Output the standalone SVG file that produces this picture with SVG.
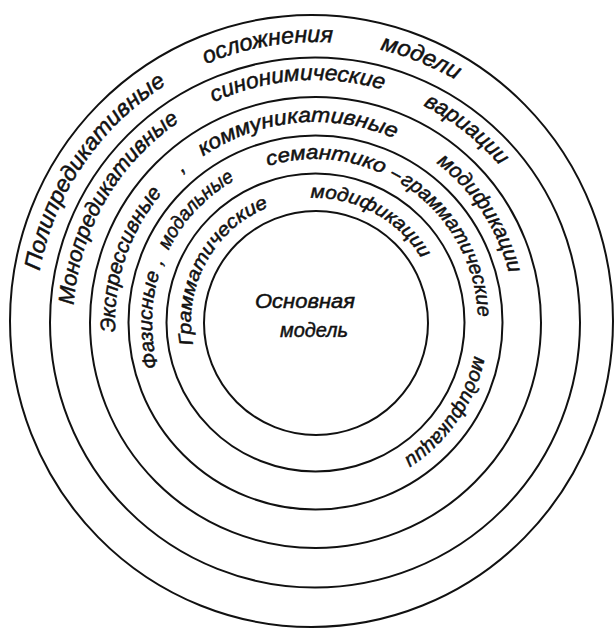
<svg xmlns="http://www.w3.org/2000/svg" xmlns:xlink="http://www.w3.org/1999/xlink" width="615" height="630" viewBox="0 0 615 630">
<style>
.ring{fill:none;stroke:#111;stroke-width:2}
.t{font-family:"Liberation Sans","DejaVu Sans",sans-serif;font-style:italic;fill:#111;stroke:#111;stroke-width:0.5}
.r1{font-size:23px}.r2{font-size:22px}.r3{font-size:21px}.r4{font-size:20px}.r5{font-size:19px}
.c{font-size:21px}
</style>
<defs>
<path id="p1" d="M315,602 A280,280 0 0 1 315,42 A280,280 0 0 1 315,602"/>
<path id="p2" d="M315,564 A242,242 0 0 1 315,80 A242,242 0 0 1 315,564"/>
<path id="p3" d="M315,522 A200,200 0 0 1 315,122 A200,200 0 0 1 315,522"/>
<path id="p4" d="M315,485 A163,163 0 0 1 315,159 A163,163 0 0 1 315,485"/>
<path id="p5" d="M315,446 A124,124 0 0 1 315,198 A124,124 0 0 1 315,446"/>
</defs>
<rect width="615" height="630" fill="#fff"/>
<g id="rings">
<ellipse id="ring6" class="ring" cx="311.5" cy="321" rx="301.5" ry="306"/>
<circle id="ring5" class="ring" cx="315" cy="322.5" r="265"/>
<circle id="ring4" class="ring" cx="315.5" cy="322.5" r="225.5"/>
<circle id="ring3" class="ring" cx="315.5" cy="322.5" r="187"/>
<circle id="ring2" class="ring" cx="315.5" cy="322.5" r="149"/>
<circle id="ring1" class="ring" cx="316" cy="323" r="112"/>
</g>
<g id="label-ring1" class="t r1">
<text><textPath href="#p1" startOffset="491" textLength="232" lengthAdjust="spacingAndGlyphs">Полипредикативные</textPath></text>
<text><textPath href="#p1" startOffset="767" textLength="130" lengthAdjust="spacingAndGlyphs">осложнения</textPath></text>
<text><textPath href="#p1" startOffset="945" textLength="82" lengthAdjust="spacingAndGlyphs">модели</textPath></text>
</g>
<g id="label-ring2" class="t r2">
<text><textPath href="#p2" startOffset="397" textLength="219" lengthAdjust="spacingAndGlyphs">Монопредикативные</textPath></text>
<text><textPath href="#p2" startOffset="655" textLength="174" lengthAdjust="spacingAndGlyphs">синонимические</textPath></text>
<text><textPath href="#p2" startOffset="872" textLength="98" lengthAdjust="spacingAndGlyphs">вариации</textPath></text>
</g>
<g id="label-ring3" class="t r3">
<text><textPath href="#p3" startOffset="304" textLength="150" lengthAdjust="spacingAndGlyphs">Экспрессивные</textPath></text>
<text><textPath href="#p3" startOffset="482">,</textPath></text>
<text><textPath href="#p3" startOffset="509" textLength="201" lengthAdjust="spacingAndGlyphs">коммуникативные</textPath></text>
<text><textPath href="#p3" startOffset="758" textLength="135" lengthAdjust="spacingAndGlyphs">модификации</textPath></text>
</g>
<g id="label-ring4" class="t r4">
<text><textPath href="#p4" startOffset="210" textLength="96" lengthAdjust="spacingAndGlyphs">Фазисные</textPath></text>
<text><textPath href="#p4" startOffset="313">,</textPath></text>
<text><textPath href="#p4" startOffset="330" textLength="98" lengthAdjust="spacingAndGlyphs">модальные</textPath></text>
<text><textPath href="#p4" startOffset="464" textLength="118" lengthAdjust="spacingAndGlyphs">семантико</textPath></text>
<text><textPath href="#p4" startOffset="589" textLength="10" lengthAdjust="spacingAndGlyphs">–</textPath></text>
<text><textPath href="#p4" startOffset="601" textLength="162" lengthAdjust="spacingAndGlyphs">грамматические</textPath></text>
<text><textPath href="#p4" startOffset="802" textLength="128" lengthAdjust="spacingAndGlyphs">модификации</textPath></text>
</g>
<g id="label-ring5" class="t r5">
<text><textPath href="#p5" startOffset="172" textLength="170" lengthAdjust="spacingAndGlyphs">Грамматические</textPath></text>
<text><textPath href="#p5" startOffset="385" textLength="133" lengthAdjust="spacingAndGlyphs">модификации</textPath></text>
</g>
<g id="center" class="t c">
<text x="255" y="308" textLength="100" lengthAdjust="spacingAndGlyphs">Основная</text>
<text x="280" y="337" textLength="68" lengthAdjust="spacingAndGlyphs">модель</text>
</g>
</svg>
